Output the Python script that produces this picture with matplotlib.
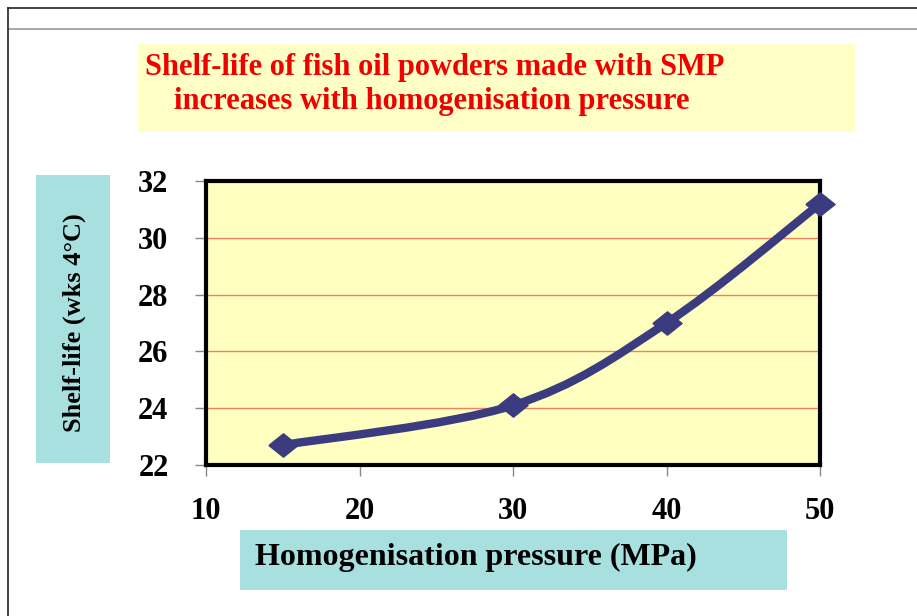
import numpy as np
import matplotlib.pyplot as plt
from matplotlib.path import Path
from matplotlib.patches import PathPatch, Rectangle
from matplotlib.lines import Line2D

# data
pressure = [15, 30, 40, 50]
shelf_life = [22.7, 24.1, 27.0, 31.2]
x_ticks = [10, 20, 30, 40, 50]
y_ticks = [22, 24, 26, 28, 30, 32]

title_lines = ['Shelf-life of fish oil powders made with SMP',
               'increases with homogenisation pressure']
x_label = 'Homogenisation pressure (MPa)'
y_label = 'Shelf-life (wks 4\u00b0C)'

W, H = 917, 616
serif = ['Liberation Serif', 'DejaVu Serif']
line_col = '#3b3b80'


def px_box(x0, y0, x1, y1):
    # pixel box (top-left origin) -> figure fraction rect
    return [x0 / W, 1 - y1 / H, (x1 - x0) / W, (y1 - y0) / H]


fig = plt.figure(figsize=(W / 100, H / 100), dpi=100)

# slide frame lines
fig.add_artist(Line2D([8 / W, 1], [1 - 8 / H] * 2, color='#222222', lw=1.2))
fig.add_artist(Line2D([8 / W, 1], [1 - 29 / H] * 2, color='#999999', lw=1.2))
fig.add_artist(Line2D([8 / W] * 2, [0, 1 - 8 / H], color='#222222', lw=1.2))

# title box
x0, y0, w, h = px_box(138, 44, 855, 132)
fig.add_artist(Rectangle((x0, y0), w, h, transform=fig.transFigure,
                         facecolor='#ffffc6', edgecolor='none'))
fig.text(145 / W, 1 - 67 / H, title_lines[0], color='#f00000', fontsize=22,
         fontweight='bold', family=serif, ha='left', va='center')
fig.text(174 / W, 1 - 102 / H, title_lines[1], color='#f00000', fontsize=22,
         fontweight='bold', family=serif, ha='left', va='center')

# y label box
x0, y0, w, h = px_box(36, 175, 110, 463)
fig.add_artist(Rectangle((x0, y0), w, h, transform=fig.transFigure,
                         facecolor='#a8e0e0', edgecolor='none'))
fig.text(74 / W, 1 - 323 / H, y_label, rotation=90, fontsize=19,
         fontweight='bold', family=serif, ha='center', va='center')

# x label box
x0, y0, w, h = px_box(240, 530, 787, 590)
fig.add_artist(Rectangle((x0, y0), w, h, transform=fig.transFigure,
                         facecolor='#a8e0e0', edgecolor='none'))
fig.text(476 / W, 1 - 557 / H, x_label, fontsize=23,
         fontweight='bold', family=serif, ha='center', va='center')

ax = fig.add_axes(px_box(206, 181, 820, 465))
ax.set_facecolor('#ffffc0')
ax.set_xlim(10, 50)
ax.set_ylim(22, 32)
ax.set_xticks(x_ticks)
ax.set_yticks(y_ticks)
for s in ax.spines.values():
    s.set_linewidth(3)
    s.set_color('black')
ax.tick_params(direction='out', length=8, width=1, color='#888888',
               labelsize=22)
ax.tick_params(axis='x', pad=15)
ax.tick_params(axis='y', pad=19)
for lab in ax.get_xticklabels() + ax.get_yticklabels():
    lab.set_fontweight('bold')
    lab.set_family(serif)
for yv in y_ticks[1:-1]:
    ax.axhline(yv, color='#f08060', lw=1, zorder=1)

# smoothed line (Excel style) as bezier through the points
xs = np.array(pressure, float)
ys = np.array(shelf_life, float)
verts = [(xs[0], ys[0])]
codes = [Path.MOVETO]
n = len(xs)
for i in range(n - 1):
    p0 = np.array([xs[max(i - 1, 0)], ys[max(i - 1, 0)]])
    p1 = np.array([xs[i], ys[i]])
    p2 = np.array([xs[i + 1], ys[i + 1]])
    p3 = np.array([xs[min(i + 2, n - 1)], ys[min(i + 2, n - 1)]])
    c1 = p1 + (p2 - p0) / 6
    c2 = p2 - (p3 - p1) / 6
    verts += [tuple(c1), tuple(c2), tuple(p2)]
    codes += [Path.CURVE4] * 3
ax.add_patch(PathPatch(Path(verts, codes), facecolor='none',
                       edgecolor=line_col, lw=6, zorder=3, clip_on=False,
                       capstyle='round', joinstyle='round'))

diamond = [(-1, 0), (0, 0.8), (1, 0), (0, -0.8), (-1, 0)]
ax.plot(pressure, shelf_life, linestyle='none', marker=diamond,
        markersize=21, color=line_col, zorder=4, clip_on=False)

fig.savefig('out.png', dpi=100)
